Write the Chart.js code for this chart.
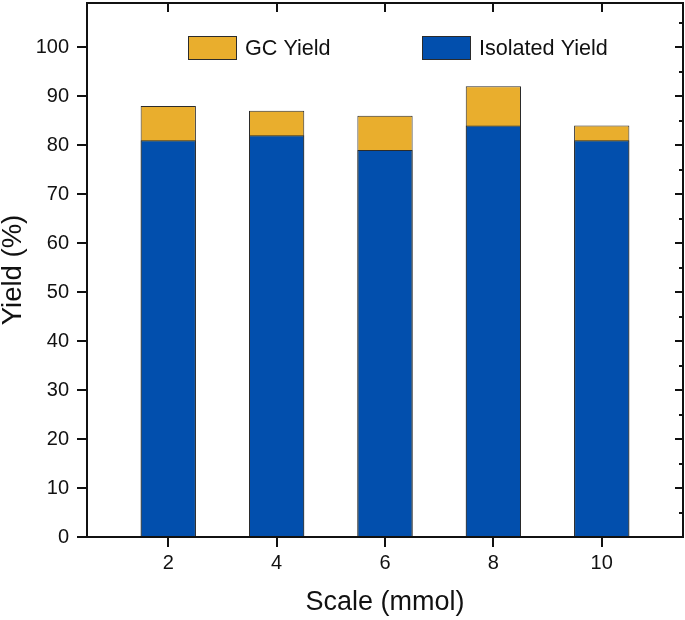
<!DOCTYPE html>
<html>
<head>
<meta charset="utf-8">
<script src="https://cdn.jsdelivr.net/npm/chart.js@4.4.1/dist/chart.umd.min.js"></script>
<style>
  html, body { margin: 0; padding: 0; background: #fff; }
  #wrap { width: 685px; height: 620px; }
</style>
</head>
<body>
<div id="wrap"><canvas id="bar_chart"></canvas></div>
<script>
// values
const scales = [2, 4, 6, 8, 10];            // mmol
const gcYield = [88, 87, 86, 92, 84];       // %
const isolatedYield = [81, 82, 79, 84, 81]; // %
const xTicks = [2, 4, 6, 8, 10];
const yTicks = [0, 10, 20, 30, 40, 50, 60, 70, 80, 90, 100];
const yMinorTicks = [5, 15, 25, 35, 45, 55, 65, 75, 85, 95, 105];

const ORANGE = "#e9ae2d";
const BLUE = "#024fad";
const EDGE = "#2b2b2b";
const FONT = "'Liberation Sans', Arial, sans-serif";

// legend drawn inside the plot, like Origin does
const innerLegend = {
    id: "innerLegend",
    afterDraw(chart) {
        const ctx = chart.ctx;
        const area = chart.chartArea;
        const spots = [101, 335];
        ctx.save();
        ctx.font = "21.6px " + FONT;
        ctx.textBaseline = "middle";
        chart.data.datasets.forEach(function (ds, i) {
            const x = area.left + spots[i];
            const y = area.top + 33;
            ctx.fillStyle = ds.backgroundColor;
            ctx.fillRect(x, y, 49, 24);
            ctx.strokeStyle = EDGE;
            ctx.lineWidth = 1;
            ctx.strokeRect(x + 0.5, y + 0.5, 48, 23);
            ctx.fillStyle = "#111";
            ctx.fillText(ds.label, x + 57, y + 13);
        });
        ctx.restore();
    }
};

// top / right frame with inward ticks
const frame = {
    id: "frame",
    afterDraw(chart) {
        const ctx = chart.ctx;
        const area = chart.chartArea;
        const xs = chart.scales.x;
        const ys = chart.scales.y;
        ctx.save();
        ctx.strokeStyle = "#111";
        ctx.lineWidth = 2;
        ctx.beginPath();
        ctx.moveTo(area.left, area.top);
        ctx.lineTo(area.right, area.top);
        ctx.lineTo(area.right, area.bottom);
        xTicks.forEach(function (v) {
            const px = Math.round(xs.getPixelForValue(v));
            ctx.moveTo(px, area.top);
            ctx.lineTo(px, area.top + 9);
        });
        yTicks.forEach(function (v) {
            const py = Math.round(ys.getPixelForValue(v));
            ctx.moveTo(area.right, py);
            ctx.lineTo(area.right - 8, py);
        });
        yMinorTicks.forEach(function (v) {
            const py = Math.round(ys.getPixelForValue(v));
            ctx.moveTo(area.right, py);
            ctx.lineTo(area.right - 4, py);
        });
        ctx.stroke();
        ctx.restore();
    }
};

Chart.defaults.font.family = FONT;
Chart.defaults.color = "#111";

new Chart("bar_chart", {
    type: "bar",
    data: {
        datasets: [{
            label: "GC Yield",
            data: scales.map((s, i) => ({ x: s, y: gcYield[i] })),
            backgroundColor: ORANGE,
            borderColor: EDGE,
            borderWidth: 1,
            grouped: false,
            order: 2,
        }, {
            label: "Isolated Yield",
            data: scales.map((s, i) => ({ x: s, y: isolatedYield[i] })),
            backgroundColor: BLUE,
            borderColor: EDGE,
            borderWidth: 1,
            grouped: false,
            order: 1,
        }]
    },
    options: {
        responsive: true,
        maintainAspectRatio: false,
        animation: false,
        categoryPercentage: 1,
        barPercentage: 0.51,
        layout: {
            padding: { top: 3, right: 2, left: 0, bottom: 0 },
        },
        plugins: {
            legend: { display: false },
            tooltip: { enabled: false },
        },
        scales: {
            x: {
                type: "linear",
                offset: false,
                min: 0.5,
                max: 11.5,
                afterBuildTicks: (scale) => { scale.ticks = xTicks.map(v => ({ value: v })); },
                afterFit: (scale) => {
                    scale.height = 83;
                    scale.paddingLeft = 0;
                    scale.paddingRight = 0;
                },
                grid: { offset: false, drawOnChartArea: false, color: "#111", lineWidth: 2, tickLength: 10 },
                border: { display: true, color: "#111", width: 2 },
                ticks: { font: { size: 20 }, padding: 4, maxRotation: 0 },
                title: {
                    display: true,
                    text: "Scale (mmol)",
                    font: { size: 27, lineHeight: 1.2 },
                    padding: { top: 2, bottom: 1.5 },
                },
            },
            y: {
                min: 0,
                max: 109,
                afterBuildTicks: (scale) => { scale.ticks = yTicks.map(v => ({ value: v })); },
                afterFit: (scale) => {
                    scale.width = 87;
                    scale.paddingTop = 0;
                    scale.paddingBottom = 0;
                },
                grid: { drawOnChartArea: false, color: "#111", lineWidth: 2, tickLength: 10 },
                border: { display: true, color: "#111", width: 2 },
                ticks: { font: { size: 20 }, padding: 8 },
                title: {
                    display: true,
                    text: "Yield (%)",
                    font: { size: 27.5, lineHeight: 0.92 },
                    padding: { top: 0.5, bottom: 2 },
                },
            },
        },
    },
    plugins: [innerLegend, frame],
});
</script>
</body>
</html>
